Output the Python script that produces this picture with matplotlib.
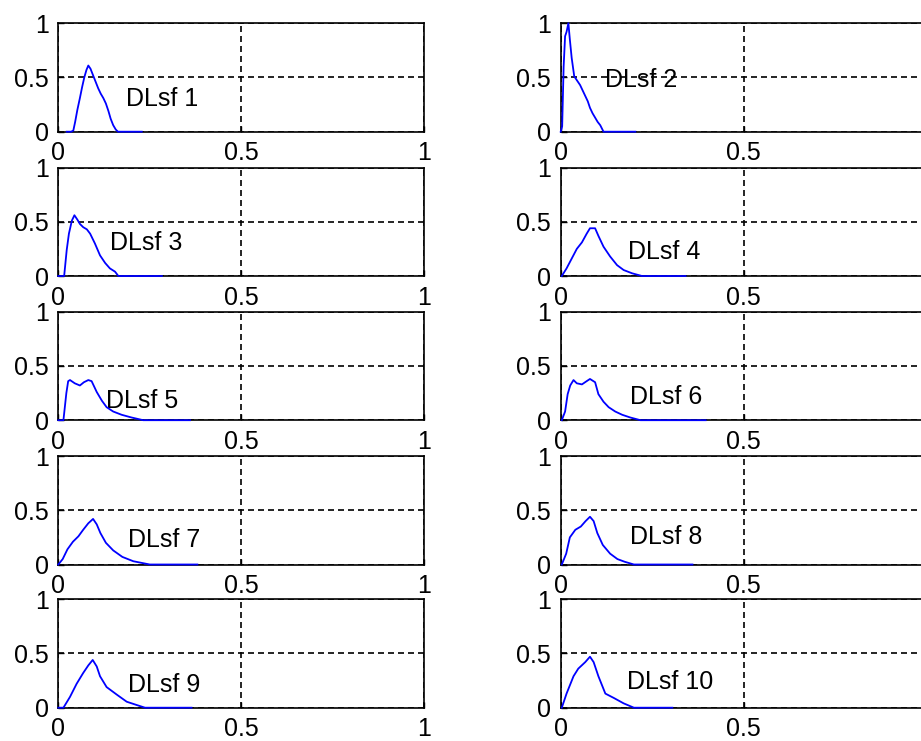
import matplotlib
matplotlib.use("Agg")
import matplotlib.pyplot as plt

# distribution curves for each DLsf channel (x, y pairs)
x1 = [0.023, 0.035, 0.041, 0.046, 0.052, 0.059, 0.065, 0.071, 0.077, 0.082, 0.088, 0.095, 0.102,
      0.109, 0.116, 0.123, 0.130, 0.137, 0.143, 0.150, 0.157, 0.163, 0.19, 0.228]
y1 = [0, 0, 0.01, 0.09, 0.20, 0.31, 0.41, 0.50, 0.57, 0.61, 0.58, 0.52, 0.46,
      0.40, 0.35, 0.31, 0.26, 0.19, 0.12, 0.06, 0.02, 0, 0, 0]

x2 = [0.0, 0.004, 0.008, 0.012, 0.016, 0.021, 0.025, 0.030, 0.037, 0.045, 0.053, 0.060, 0.067,
      0.074, 0.080, 0.087, 0.094, 0.101, 0.108, 0.117, 0.15, 0.204]
y2 = [0, 0.05, 0.60, 0.88, 0.92, 1.0, 0.85, 0.68, 0.51, 0.47, 0.43, 0.38, 0.33,
      0.28, 0.22, 0.17, 0.13, 0.09, 0.06, 0, 0, 0]

x3 = [0.0, 0.016, 0.023, 0.029, 0.037, 0.044, 0.052, 0.059, 0.068, 0.078, 0.087, 0.100, 0.114,
      0.128, 0.141, 0.155, 0.164, 0.22, 0.283]
y3 = [0, 0, 0.24, 0.39, 0.51, 0.56, 0.52, 0.48, 0.45, 0.43, 0.39, 0.30, 0.19,
      0.12, 0.07, 0.04, 0, 0, 0]

x4 = [0.003, 0.016, 0.030, 0.044, 0.058, 0.071, 0.080, 0.094, 0.103, 0.117, 0.135, 0.154, 0.172,
      0.195, 0.222, 0.28, 0.341]
y4 = [0, 0.07, 0.16, 0.25, 0.31, 0.39, 0.44, 0.44, 0.37, 0.27, 0.18, 0.10, 0.055,
      0.025, 0, 0, 0]

x5 = [0.0, 0.014, 0.022, 0.027, 0.032, 0.045, 0.059, 0.070, 0.082, 0.091, 0.105, 0.119, 0.132,
      0.150, 0.173, 0.200, 0.232, 0.30, 0.36]
y5 = [0, 0, 0.25, 0.36, 0.37, 0.34, 0.32, 0.35, 0.37, 0.36, 0.26, 0.18, 0.12,
      0.08, 0.05, 0.025, 0, 0, 0]

x6 = [0.003, 0.012, 0.019, 0.026, 0.035, 0.044, 0.058, 0.071, 0.080, 0.094, 0.103, 0.117, 0.131,
      0.149, 0.168, 0.190, 0.218, 0.30, 0.396]
y6 = [0, 0.08, 0.24, 0.32, 0.37, 0.34, 0.33, 0.36, 0.38, 0.35, 0.24, 0.17, 0.12,
      0.08, 0.05, 0.025, 0, 0, 0]

x7 = [0.0, 0.012, 0.025, 0.040, 0.055, 0.068, 0.082, 0.095, 0.105, 0.115, 0.130, 0.150, 0.175,
      0.205, 0.250, 0.32, 0.38]
y7 = [0, 0.05, 0.14, 0.21, 0.26, 0.32, 0.38, 0.42, 0.37, 0.29, 0.20, 0.13, 0.07,
      0.03, 0, 0, 0]

x8 = [0.003, 0.015, 0.025, 0.040, 0.055, 0.068, 0.080, 0.090, 0.100, 0.115, 0.135, 0.155, 0.175,
      0.200, 0.28, 0.36]
y8 = [0, 0.10, 0.25, 0.32, 0.35, 0.40, 0.44, 0.40, 0.29, 0.18, 0.10, 0.05, 0.025,
      0, 0, 0]

x9 = [0.0, 0.014, 0.032, 0.050, 0.068, 0.082, 0.094, 0.105, 0.114, 0.132, 0.160, 0.187, 0.214,
      0.237, 0.30, 0.364]
y9 = [0, 0, 0.10, 0.22, 0.32, 0.39, 0.44, 0.38, 0.29, 0.19, 0.12, 0.055, 0.025,
      0, 0, 0]

x10 = [0.003, 0.016, 0.035, 0.048, 0.067, 0.080, 0.090, 0.103, 0.122, 0.145, 0.172, 0.200, 0.25, 0.305]
y10 = [0, 0.13, 0.29, 0.36, 0.42, 0.47, 0.42, 0.29, 0.13, 0.09, 0.04, 0, 0, 0]

curves = [(x1, y1), (x2, y2), (x3, y3), (x4, y4), (x5, y5),
          (x6, y6), (x7, y7), (x8, y8), (x9, y9), (x10, y10)]
labels = ["DLsf 1", "DLsf 2", "DLsf 3", "DLsf 4", "DLsf 5",
          "DLsf 6", "DLsf 7", "DLsf 8", "DLsf 9", "DLsf 10"]
label_pos = [(0.185, 0.30), (0.122, 0.48), (0.142, 0.30), (0.185, 0.22), (0.13, 0.18),
             (0.19, 0.21), (0.19, 0.23), (0.19, 0.25), (0.19, 0.21), (0.18, 0.24)]

plt.rcParams['font.family'] = ['Liberation Sans', 'DejaVu Sans']
plt.rcParams['font.size'] = 18

W, H = 921, 741
fig = plt.figure(figsize=(W / 100, H / 100), dpi=100)

col_left = [58.3, 560.7]
ax_w = 366
ax_h = 108.5
row_bottom = [131.7, 276.0, 420.2, 564.5, 707.7]

for i in range(10):
    r, c = divmod(i, 2)
    left = col_left[c] / W
    bottom = 1 - row_bottom[r] / H
    ax = fig.add_axes([left, bottom, ax_w / W, ax_h / H])
    xs, ys = curves[i]
    # curve sits on top of the axis box so the zero tail stays visible
    ax.plot(xs, ys, color=(0, 0, 1), lw=1.3, zorder=6, clip_on=False)
    ax.set_xlim(0, 1)
    ax.set_ylim(0, 1)
    ax.set_xticks([0, 0.5, 1])
    ax.set_yticks([0, 0.5, 1])
    # right column runs past the figure edge, so its last x label is left off
    ax.set_xticklabels(["0", "0.5", "1" if c == 0 else ""])
    ax.set_yticklabels(["0", "0.5", "1"])
    ax.grid(True, color='black', linestyle=(0, (3.6, 2.4)), lw=1.2)
    ax.tick_params(direction='in', length=4, width=1, pad=7, labelsize=18, colors='black')
    for sp in ax.spines.values():
        sp.set_linewidth(1.2)
        sp.set_color('black')
        sp.set_zorder(4)
    tx, ty = label_pos[i]
    ax.text(tx, ty, labels[i], ha='left', va='center', fontsize=18, color='black', zorder=5)

fig.savefig("out.png", dpi=100)
